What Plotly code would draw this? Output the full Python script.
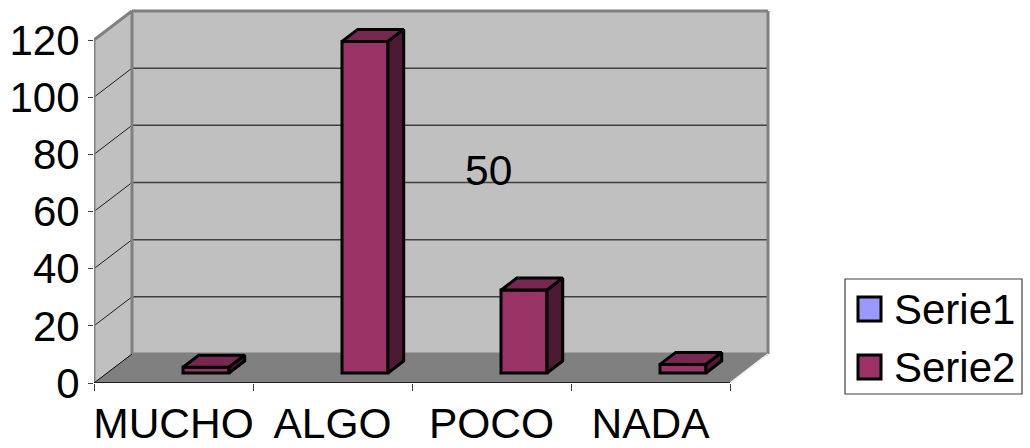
import plotly.graph_objects as go

categories = ["MUCHO", "ALGO", "POCO", "NADA"]
serie1 = [None, None, None, None]
serie2 = [2, 116, 29, 3]
y_ticks = [0, 20, 40, 60, 80, 100, 120]
stray_label = "50"

FONT = "Liberation Sans, Arial, sans-serif"
FONT_SIZE = 42.5
W, H = 1030, 448

# Plot rectangle in pixels and the scale it implies
LEFT, RIGHT, TOP, BOTTOM = 94, 775, 5, 383
CAT_PX = 159.0
UNIT_PX = 343.0 / 120.0
x_max = (RIGHT - LEFT) / CAT_PX
y_max = (BOTTOM - TOP) / UNIT_PX

# Oblique projection: how far one full unit of depth shifts a point
DEPTH_X = 38.0 / CAT_PX
DEPTH_Y = 29.0 / UNIT_PX


def project(x, v, depth):
    return x + depth * DEPTH_X, v + depth * DEPTH_Y


def poly_path(points):
    return "M" + " L".join(f"{x},{y}" for x, y in points) + " Z"


BAR_FRONT_DEPTH = 10.0 / 29.0
BAR_BACK_DEPTH = 22.0 / 29.0
BAR_START = 89.0 / CAT_PX
BAR_WIDTH = 46.0 / CAT_PX
lift = BAR_FRONT_DEPTH * DEPTH_Y

FRONT = "#993366"
TOP_FACE = "#772850"
SIDE = "#4D1A33"
LINE = "#000000"
WALL = "#C0C0C0"
FLOOR = "#808080"
EDGE = "#808080"

shapes = []


def add_poly(points, fill, color=None, width=0):
    shapes.append(dict(type="path", path=poly_path(points), xref="x", yref="y",
                       fillcolor=fill, line=dict(color=color or fill, width=width),
                       layer="below"))


def add_line(p0, p1, color, width):
    shapes.append(dict(type="line", xref="x", yref="y", x0=p0[0], y0=p0[1], x1=p1[0], y1=p1[1],
                       line=dict(color=color, width=width), layer="below"))


n = len(categories)
top_v = y_ticks[-1]

# Walls and floor of the box
add_poly([project(0, 0, 1), project(n, 0, 1), project(n, top_v, 1), project(0, top_v, 1)], WALL)
add_poly([project(0, 0, 0), project(0, 0, 1), project(0, top_v, 1), project(0, top_v, 0)], WALL)
add_poly([project(0, 0, 0), project(n, 0, 0), project(n, 0, 1), project(0, 0, 1)], FLOOR)

# Gridlines run across the side wall and the back wall
for v in y_ticks[1:-1]:
    add_line(project(0, v, 0), project(0, v, 1), "#202020", 1)
    add_line(project(0, v, 1), project(n, v, 1), "#404040", 1.5)

# Box edges
add_line(project(0, top_v, 1), project(n, top_v, 1), EDGE, 3)
add_line(project(n, 0, 1), project(n, top_v, 1), EDGE, 3)
add_line(project(0, 0, 1), project(0, top_v, 1), EDGE, 3)
add_line(project(0, 0, 1), project(n, 0, 1), EDGE, 3)
add_line(project(0, top_v, 0), project(0, top_v, 1), EDGE, 3)
add_line(project(0, 0, 0), project(0, top_v, 0), EDGE, 3)
add_line(project(0, 0, 0), project(0, 0, 1), "#000000", 1)
add_line(project(n, 0, 0), project(n, 0, 1), "#F0F0F0", 1.5)

fig = go.Figure()

fig.add_trace(go.Bar(name="Serie1", x=[i + BAR_START for i in range(n)], y=serie1,
                     width=BAR_WIDTH, offset=0, base=lift,
                     marker=dict(color="#9999FF", line=dict(color=LINE, width=3)),
                     showlegend=False, hoverinfo="skip"))

fig.add_trace(go.Bar(name="Serie2", x=[i + BAR_START for i in range(n)], y=serie2,
                     width=BAR_WIDTH, offset=0, base=lift,
                     marker=dict(color=FRONT, line=dict(color=LINE, width=3)),
                     showlegend=False))

# Top and side faces of each column
for i, value in enumerate(serie2):
    x0 = i + BAR_START
    x1 = x0 + BAR_WIDTH
    dx = (BAR_BACK_DEPTH - BAR_FRONT_DEPTH) * DEPTH_X
    dy = (BAR_BACK_DEPTH - BAR_FRONT_DEPTH) * DEPTH_Y
    v0, v1 = lift, lift + value
    faces = [
        ([x0, x1, x1 + dx, x0 + dx, x0], [v1, v1, v1 + dy, v1 + dy, v1], TOP_FACE),
        ([x1, x1 + dx, x1 + dx, x1, x1], [v0, v0 + dy, v1 + dy, v1, v0], SIDE),
    ]
    for xs, ys, color in faces:
        fig.add_trace(go.Scatter(x=xs, y=ys, mode="lines", fill="toself", fillcolor=color,
                                 line=dict(color=LINE, width=3), showlegend=False,
                                 hoverinfo="skip"))

# Legend box, drawn by hand so the swatches can carry the larger size
shapes.append(dict(type="rect", xref="paper", yref="paper",
                   x0=(845 - LEFT) / (RIGHT - LEFT), x1=(1022 - LEFT) / (RIGHT - LEFT),
                   y0=(BOTTOM - 394) / (BOTTOM - TOP), y1=(BOTTOM - 279) / (BOTTOM - TOP),
                   fillcolor="white", line=dict(color="#404040", width=1.2), layer="above"))
annotations = [dict(x=2.484, y=74.5, xref="x", yref="y", text=stray_label, showarrow=False,
                    font=dict(family=FONT, size=FONT_SIZE, color="black"))]
for name, color, (sy0, sy1) in zip(["Serie1", "Serie2"], ["#9999FF", FRONT], [(297, 321), (355, 379)]):
    shapes.append(dict(type="rect", xref="paper", yref="paper",
                       x0=(858 - LEFT) / (RIGHT - LEFT), x1=(881 - LEFT) / (RIGHT - LEFT),
                       y0=(BOTTOM - sy1) / (BOTTOM - TOP), y1=(BOTTOM - sy0) / (BOTTOM - TOP),
                       fillcolor=color, line=dict(color=LINE, width=3), layer="above"))
    annotations.append(dict(x=(892 - LEFT) / (RIGHT - LEFT), y=(BOTTOM - (sy0 + sy1) / 2) / (BOTTOM - TOP),
                            xref="paper", yref="paper", xanchor="left", yanchor="middle",
                            text=name, showarrow=False,
                            font=dict(family=FONT, size=FONT_SIZE - 0.5, color="black")))

fig.update_layout(
    width=W, height=H,
    margin=dict(l=LEFT, r=W - RIGHT, t=TOP, b=H - BOTTOM, pad=0, autoexpand=False),
    paper_bgcolor="white", plot_bgcolor="white",
    showlegend=False, barmode="overlay",
    shapes=shapes, annotations=annotations,
    font=dict(family=FONT, size=FONT_SIZE, color="black"),
    xaxis=dict(
        range=[0, x_max], showgrid=False, zeroline=False, fixedrange=True,
        showline=False, automargin=False,
        tickmode="array", tickvals=[i + 0.5 for i in range(n)], ticktext=categories,
        ticks="outside", ticklen=3, tickcolor="rgba(0,0,0,0)", tickfont=dict(size=FONT_SIZE),
        minor=dict(tickmode="array", tickvals=list(range(n + 1)), ticks="outside",
                   ticklen=7, tickcolor="#404040", tickwidth=1),
    ),
    yaxis=dict(
        range=[0, y_max], showgrid=False, zeroline=False, fixedrange=True,
        showline=False, automargin=False,
        tickmode="array", tickvals=y_ticks, ticks="outside", ticklen=5,
        tickcolor="#404040", tickwidth=1, tickfont=dict(size=FONT_SIZE - 0.5),
    ),
)

# Front edge of the floor
fig.add_trace(go.Scatter(x=[0, n], y=[0, 0], mode="lines", line=dict(color="#000000", width=1.5),
                         cliponaxis=False, showlegend=False, hoverinfo="skip"))

fig.write_html("out.html")
